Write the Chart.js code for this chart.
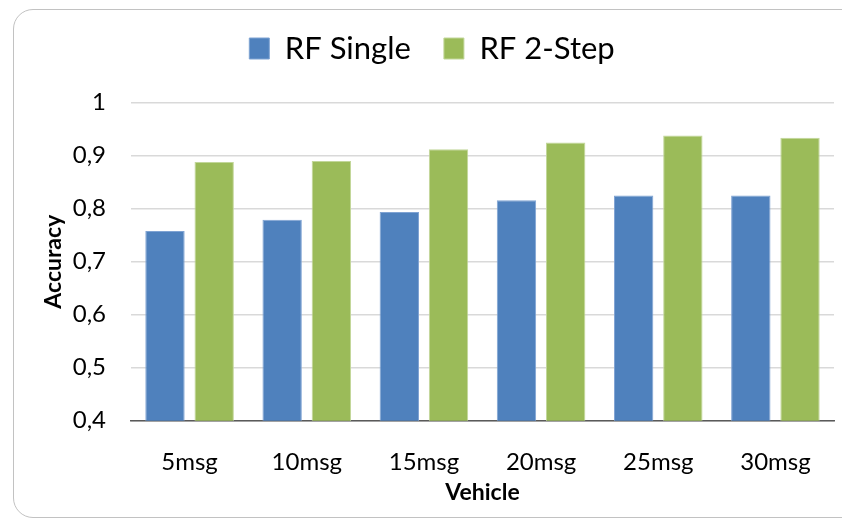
<!DOCTYPE html>
<html>
<head>
<meta charset="utf-8">
<script src="https://cdn.jsdelivr.net/npm/chart.js@4.4.1/dist/chart.umd.min.js"></script>
<style>
  body { margin: 0; background: #fff; }
  #wrap { position: relative; width: 842px; height: 523px; overflow: hidden; }
  #frame {
    position: absolute; left: 13px; top: 9px; width: 880px; height: 509px;
    border: 1.5px solid #c2c2c2; border-radius: 20px; box-sizing: border-box;
  }
  #myChart { position: absolute; left: 0; top: 0; }
</style>
</head>
<body>
<div id="wrap">
  <div id="frame"></div>
  <canvas id="myChart" width="842" height="523"></canvas>
</div>
<script>
// Accuracy per message window
const categories = ['5msg', '10msg', '15msg', '20msg', '25msg', '30msg']
const rfSingle = [0.758, 0.779, 0.794, 0.816, 0.825, 0.825]
const rf2Step = [0.888, 0.890, 0.912, 0.925, 0.938, 0.934]

const fontName = 'Lato'

function createChart(){
    const ctx = document.getElementById('myChart')
    const myChart = new Chart(ctx, {
        type: 'bar',
        data: {
            labels: categories,
            datasets: [{
                label: 'RF Single',
                data: rfSingle,
                backgroundColor: '#4F81BD',
                borderColor: '#7fa3d3',
                borderWidth: 1
            },
            {
                label: 'RF 2-Step',
                data: rf2Step,
                backgroundColor: '#9BBB59',
                borderColor: '#c2d79a',
                borderWidth: 1
            }]
        },
        options: {
            responsive: false,
            animation: false,
            categoryPercentage: 0.84,
            barPercentage: 0.8,
            layout: {
                padding: { top: 0, left: 30, right: 8, bottom: 0 }
            },
            scales: {
                x: {
                    grid: { display: false },
                    border: { display: true, color: '#5a5a5a', width: 1.5 },
                    ticks: {
                        color: '#000',
                        padding: 19,
                        font: { family: fontName, size: 24 }
                    },
                    title: {
                        display: true,
                        text: 'Vehicle',
                        color: '#000',
                        font: { family: fontName, size: 23, weight: 'bold' },
                        padding: { top: 0, bottom: 17 }
                    },
                    afterFit: (scale) => { scale.height = 102.3 }
                },
                y: {
                    min: 0.4,
                    max: 1,
                    grid: { color: '#d9d9d9', lineWidth: 1.5, drawTicks: false },
                    border: { display: false },
                    ticks: {
                        stepSize: 0.1,
                        color: '#000',
                        padding: 25,
                        font: { family: fontName, size: 24 },
                        callback: (v) => v === 1 ? '1' : v.toFixed(1).replace('.', ',')
                    },
                    title: {
                        display: true,
                        text: 'Accuracy',
                        color: '#000',
                        font: { family: fontName, size: 23, weight: 'bold' },
                        padding: { top: 10, bottom: 0 }
                    },
                    afterFit: (scale) => { scale.width = 101 }
                }
            },
            plugins: {
                legend: {
                    position: 'top',
                    weight: 1000,
                    labels: {
                        color: '#000',
                        boxWidth: 20,
                        boxHeight: 21,
                        padding: 33,
                        font: { family: fontName, size: 31 }
                    }
                },
                // empty title used as a gap between legend and plot
                title: {
                    display: true,
                    text: '',
                    position: 'top',
                    weight: 500,
                    padding: 0,
                    font: { size: 28.7, lineHeight: 1 }
                },
                tooltip: { enabled: false }
            }
        }
    })
}

createChart()
</script>
</body>
</html>
